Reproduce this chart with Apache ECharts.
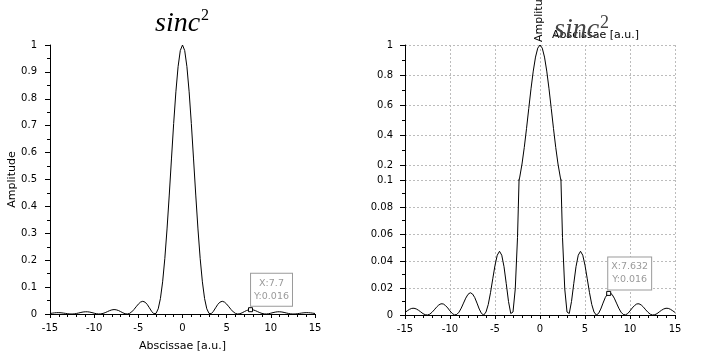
<!DOCTYPE html>
<html><head><meta charset="utf-8">
<script src="https://cdn.jsdelivr.net/npm/echarts@6.0.0/dist/echarts.min.js"></script>
<style>html,body{margin:0;padding:0;background:#fff}#c{width:720px;height:360px}</style>
</head><body><div id="c"></div>
<script>
const xValues = [-15,-14.75,-14.5,-14.25,-14,-13.75,-13.5,-13.25,-13,-12.75,-12.5,-12.25,-12,-11.75,-11.5,-11.25,-11,-10.75,-10.5,-10.25,-10,-9.75,-9.5,-9.25,-9,-8.75,-8.5,-8.25,-8,-7.75,-7.5,-7.25,-7,-6.75,-6.5,-6.25,-6,-5.75,-5.5,-5.25,-5,-4.75,-4.5,-4.25,-4,-3.75,-3.5,-3.25,-3,-2.75,-2.5,-2.25,-2,-1.75,-1.5,-1.25,-1,-0.75,-0.5,-0.25,0,0.25,0.5,0.75,1,1.25,1.5,1.75,2,2.25,2.5,2.75,3,3.25,3.5,3.75,4,4.25,4.5,4.75,5,5.25,5.5,5.75,6,6.25,6.5,6.75,7,7.25,7.5,7.75,8,8.25,8.5,8.75,9,9.25,9.5,9.75,10,10.25,10.5,10.75,11,11.25,11.5,11.75,12,12.25,12.5,12.75,13,13.25,13.5,13.75,14,14.25,14.5,14.75,15];
const yValues = [0.0019,0.0031,0.0042,0.0049,0.0050,0.0045,0.0035,0.0023,0.0010,0.0002,0.0000,0.0006,0.0020,0.0038,0.0058,0.0074,0.0083,0.0082,0.0070,0.0052,0.0030,0.0011,0.0001,0.0004,0.0021,0.0051,0.0088,0.0125,0.0153,0.0165,0.0156,0.0129,0.0088,0.0044,0.0011,0.0000,0.0022,0.0078,0.0165,0.0268,0.0368,0.0443,0.0472,0.0443,0.0358,0.0232,0.0100,0.0011,0.0022,0.0193,0.0573,0.1196,0.2067,0.3162,0.4422,0.5764,0.7081,0.8260,0.9194,0.9793,
1,
0.9793,0.9194,0.8260,0.7081,0.5764,0.4422,0.3162,0.2067,0.1196,0.0573,0.0193,0.0022,0.0011,0.0100,0.0232,0.0358,0.0443,0.0472,0.0443,0.0368,0.0268,0.0165,0.0078,0.0022,0.0000,0.0011,0.0044,0.0088,0.0129,0.0156,0.0165,0.0153,0.0125,0.0088,0.0051,0.0021,0.0004,0.0001,0.0011,0.0030,0.0052,0.0070,0.0082,0.0083,0.0074,0.0058,0.0038,0.0020,0.0006,0.0000,0.0002,0.0010,0.0023,0.0035,0.0045,0.0050,0.0049,0.0042,0.0031,0.0019];
const upperYTicks = [0.2, 0.4, 0.6, 0.8, 1];
const upperYMinorTicks = [0.3, 0.5, 0.7, 0.9];
const tipLeft = [7.7, 0.016];
const tipRight = [7.632, 0.016];
const titleMain = 'sinc', titleSup = '2';
const xName = 'Abscissae [a.u.]', yName = 'Amplitude';

const pts = xValues.map((x, i) => [x, yValues[i]]);
const FONT = 'DejaVu Sans';
const lbl = {color: '#000', fontSize: 10, fontFamily: FONT};
const axLine = {show: true, onZero: false, lineStyle: {color: '#000', width: 1}};
const dashed = {show: true, lineStyle: {color: '#bcbcbc', width: 1, type: [2, 2]}};
const minorX = {show: true, splitNumber: 5, length: 3, lineStyle: {color: '#000'}};
const tickSty = {lineStyle: {color: '#000'}};

function tip(v) {
  return {
    symbol: 'rect', symbolSize: 4, silent: true,
    itemStyle: {color: '#fff', borderColor: '#000', borderWidth: 1},
    label: {
      show: true, formatter: 'X:' + v[0] + '\nY:' + v[1],
      position: [23.5, -1.5], align: 'center', verticalAlign: 'bottom',
      color: '#9a9a9a', fontSize: 9.5, fontFamily: FONT, lineHeight: 13,
      backgroundColor: '#fff', borderColor: '#9a9a9a', borderWidth: 1, padding: [3, 3, 3, 3]
    },
    data: [{coord: v}]
  };
}
function titleRich(sz2, col) {
  return {
    a: {fontFamily: 'Liberation Serif', fontStyle: 'italic', fontWeight: 'normal', fontSize: 28, color: col, verticalAlign: 'bottom', lineHeight: 30},
    b: {fontFamily: 'Liberation Serif', fontWeight: 'normal', fontSize: sz2, color: col, verticalAlign: 'top', lineHeight: 30, padding: [0, 0, 0, 1]}
  };
}

const chart = echarts.init(document.getElementById('c'), null, {renderer: 'canvas'});
chart.setOption({
  animation: false,
  backgroundColor: '#fff',
  title: [
    {text: '{a|' + titleMain + '}{b|' + titleSup + '}', left: 155, top: 8, padding: 0,
     textStyle: {fontWeight: 'normal', rich: titleRich(16, '#000')}},
    {text: '{a|' + titleMain + '}{b|' + titleSup + '}', left: 554, top: 14, padding: 0,
     textStyle: {fontWeight: 'normal', rich: titleRich(18, '#444')}}
  ],
  grid: [
    {left: 50, top: 45, width: 265, height: 269},
    {left: 405, top: 45, width: 270, height: 135},
    {left: 405, top: 180, width: 270, height: 135}
  ],
  xAxis: [
    {gridIndex: 0, type: 'value', min: -15, max: 15, interval: 5, axisLine: axLine,
     axisTick: Object.assign({length: 4}, tickSty), minorTick: minorX,
     axisLabel: Object.assign({margin: 9}, lbl), splitLine: {show: false},
     name: xName, nameLocation: 'middle', nameGap: 27,
     nameTextStyle: {fontSize: 11, color: '#000', fontFamily: FONT}},
    {gridIndex: 1, type: 'value', min: -15, max: 15, interval: 5, axisLine: {show: false, onZero: false},
     axisTick: {show: false}, axisLabel: {show: false}, splitLine: dashed},
    {gridIndex: 2, type: 'value', min: -15, max: 15, interval: 5, axisLine: axLine,
     axisTick: Object.assign({length: 4}, tickSty), minorTick: minorX,
     axisLabel: Object.assign({margin: 9}, lbl), splitLine: dashed}
  ],
  yAxis: [
    {gridIndex: 0, type: 'value', min: 0, max: 1, interval: 0.1, axisLine: axLine,
     axisTick: Object.assign({length: 5}, tickSty),
     minorTick: {show: true, splitNumber: 2, length: 3, lineStyle: {color: '#000'}},
     axisLabel: Object.assign({margin: 13}, lbl), splitLine: {show: false},
     name: yName, nameLocation: 'middle', nameGap: 32,
     nameTextStyle: {fontSize: 11, color: '#000', fontFamily: FONT}},
    {gridIndex: 1, type: 'value', min: 0.1, max: 1, interval: 0.1, axisLine: axLine,
     axisTick: Object.assign({length: 5, customValues: upperYTicks}, tickSty),
     axisLabel: Object.assign({margin: 12, customValues: upperYTicks}, lbl), splitLine: dashed},
    {gridIndex: 1, type: 'value', min: 0.1, max: 1, position: 'left', offset: 0,
     axisLine: {show: false, onZero: false},
     axisTick: Object.assign({length: 3, customValues: upperYMinorTicks}, tickSty),
     axisLabel: {show: false}, splitLine: {show: false}},
    {gridIndex: 2, type: 'value', min: 0, max: 0.1, interval: 0.02, axisLine: axLine,
     axisTick: Object.assign({length: 5}, tickSty),
     minorTick: {show: true, splitNumber: 2, length: 3, lineStyle: {color: '#000'}},
     axisLabel: Object.assign({margin: 12}, lbl), splitLine: dashed}
  ],
  series: [
    {type: 'line', xAxisIndex: 0, yAxisIndex: 0, data: pts, symbol: 'none', silent: true,
     lineStyle: {color: '#000', width: 1}, markPoint: tip(tipLeft)},
    {type: 'line', xAxisIndex: 1, yAxisIndex: 1, data: pts, symbol: 'none', silent: true, clip: true,
     lineStyle: {color: '#000', width: 1}},
    {type: 'line', xAxisIndex: 2, yAxisIndex: 3, data: pts, symbol: 'none', silent: true, clip: true,
     lineStyle: {color: '#000', width: 1}, markPoint: tip(tipRight)}
  ],
  graphic: [
    {type: 'text', x: 552, y: 35, silent: true,
     style: {text: xName, fill: '#000', fontSize: 11, fontFamily: FONT, align: 'left', verticalAlign: 'middle'}},
    {type: 'text', x: 539, y: 42, rotation: Math.PI / 2, silent: true,
     style: {text: yName, fill: '#000', fontSize: 11, fontFamily: FONT, align: 'left', verticalAlign: 'middle'}}
  ]
});
</script></body></html>
